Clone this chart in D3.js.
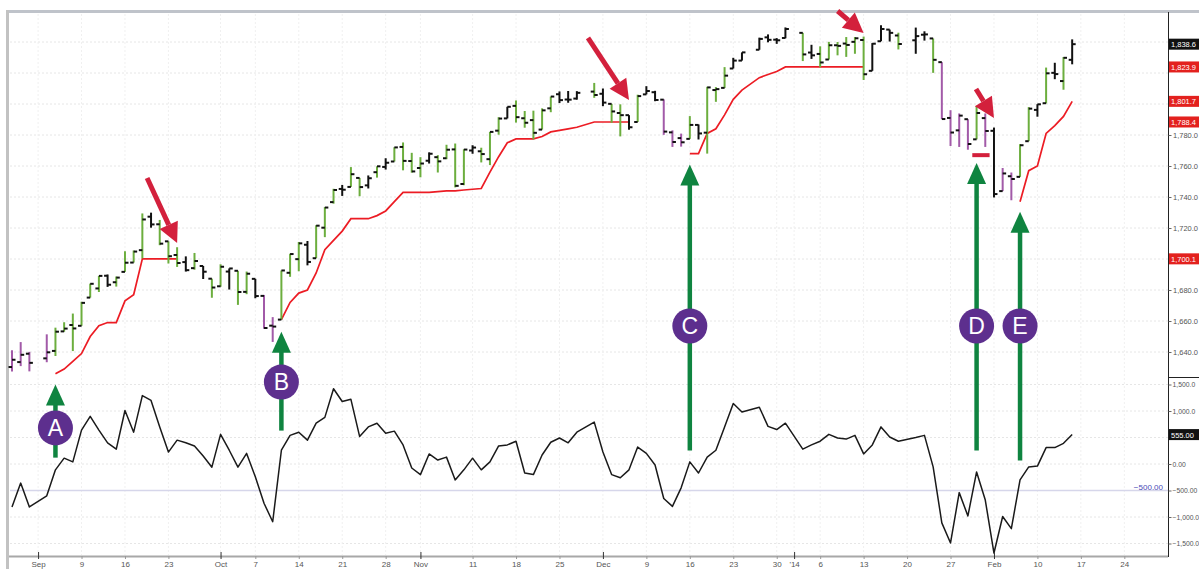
<!DOCTYPE html>
<html>
<head>
<meta charset="utf-8">
<script src="https://cdn.jsdelivr.net/npm/d3@7"></script>
<style>
  body { margin: 0; background: #fff; }
  svg { display: block; font-family: "Liberation Sans", Arial, sans-serif; }
</style>
</head>
<body>
<svg id="chart" width="1199" height="569"></svg>
<script>
// ---- data (daily bars, Aug 28 2013 - Feb 14 2014) ----
const dates = [
  '2013-08-28','2013-08-29','2013-08-30','2013-09-03','2013-09-04','2013-09-05','2013-09-06',
  '2013-09-09','2013-09-10','2013-09-11','2013-09-12','2013-09-13',
  '2013-09-16','2013-09-17','2013-09-18','2013-09-19','2013-09-20',
  '2013-09-23','2013-09-24','2013-09-25','2013-09-26','2013-09-27',
  '2013-09-30','2013-10-01','2013-10-02','2013-10-03','2013-10-04',
  '2013-10-07','2013-10-08','2013-10-09','2013-10-10','2013-10-11',
  '2013-10-14','2013-10-15','2013-10-16','2013-10-17','2013-10-18',
  '2013-10-21','2013-10-22','2013-10-23','2013-10-24','2013-10-25',
  '2013-10-28','2013-10-29','2013-10-30','2013-10-31','2013-11-01',
  '2013-11-04','2013-11-05','2013-11-06','2013-11-07','2013-11-08',
  '2013-11-11','2013-11-12','2013-11-13','2013-11-14','2013-11-15',
  '2013-11-18','2013-11-19','2013-11-20','2013-11-21','2013-11-22',
  '2013-11-25','2013-11-26','2013-11-27','2013-11-29',
  '2013-12-02','2013-12-03','2013-12-04','2013-12-05','2013-12-06',
  '2013-12-09','2013-12-10','2013-12-11','2013-12-12','2013-12-13',
  '2013-12-16','2013-12-17','2013-12-18','2013-12-19','2013-12-20',
  '2013-12-23','2013-12-24','2013-12-26','2013-12-27',
  '2013-12-30','2013-12-31','2014-01-02','2014-01-03',
  '2014-01-06','2014-01-07','2014-01-08','2014-01-09','2014-01-10',
  '2014-01-13','2014-01-14','2014-01-15','2014-01-16','2014-01-17',
  '2014-01-21','2014-01-22','2014-01-23','2014-01-24',
  '2014-01-27','2014-01-28','2014-01-29','2014-01-30','2014-01-31',
  '2014-02-03','2014-02-04','2014-02-05','2014-02-06','2014-02-07',
  '2014-02-10','2014-02-11','2014-02-12','2014-02-13','2014-02-14'
]

const opens = [
  1630.3,1633.5,1638.9,1635.9,1640.7,1653.3,1657.4,
  1656.9,1675.1,1681.0,1689.2,1685.0,
  1691.7,1697.7,1705.7,1727.3,1722.4,
  1711.4,1702.6,1698.0,1694.1,1695.5,
  1687.3,1682.4,1691.9,1692.4,1678.8,
  1687.2,1676.2,1657.0,1660.9,1691.1,
  1699.9,1709.2,1700.5,1720.2,1736.7,
  1745.2,1746.5,1752.3,1747.5,1756.0,
  1759.4,1762.9,1772.3,1763.2,1758.7,
  1763.4,1765.7,1765.0,1770.7,1748.4,
  1770.0,1769.5,1764.4,1782.8,1790.7,
  1798.8,1790.8,1789.6,1783.5,1797.2,
  1806.3,1802.9,1803.5,1808.0,
  1806.6,1800.1,1794.2,1792.8,1788.4,
  1806.2,1807.6,1802.8,1781.7,1778.0,
  1777.5,1786.5,1781.5,1809.0,1810.4,
  1822.9,1828.0,1835.0,1843.0,
  1841.5,1842.6,1845.9,1833.2,
  1832.3,1828.7,1837.9,1839.0,1840.1,
  1841.3,1821.4,1840.5,1848.0,1844.2,
  1841.1,1844.7,1842.3,1827.0,
  1791.0,1783.0,1790.2,1777.2,1790.9,
  1782.7,1743.8,1753.4,1753.0,1776.0,
  1796.2,1800.5,1820.1,1814.8,1828.5
]
const highs = [
  1641.2,1646.4,1640.1,1651.4,1655.7,1659.2,1664.8,
  1672.4,1684.1,1689.1,1690.0,1688.7,
  1705.0,1705.5,1729.4,1729.9,1725.2,
  1711.4,1707.6,1701.7,1703.9,1695.5,
  1687.3,1696.6,1693.9,1692.4,1691.9,
  1687.2,1676.8,1662.5,1692.6,1703.4,
  1711.0,1711.6,1721.8,1733.5,1745.3,
  1747.8,1759.3,1752.3,1753.9,1759.8,
  1765.0,1772.1,1775.2,1768.5,1765.7,
  1768.8,1767.0,1773.7,1774.5,1770.8,
  1773.4,1771.8,1782.0,1791.5,1798.2,
  1802.3,1795.5,1795.7,1797.2,1804.8,
  1808.1,1808.4,1808.3,1813.6,
  1810.0,1800.1,1799.8,1792.8,1806.0,
  1811.5,1808.5,1803.0,1783.0,1780.9,
  1792.2,1786.8,1811.1,1810.9,1823.8,
  1829.8,1833.3,1842.8,1844.9,
  1842.5,1849.4,1845.9,1838.2,
  1837.2,1840.1,1840.0,1843.2,1843.2,
  1843.5,1839.3,1850.8,1848.0,1846.0,
  1849.3,1846.9,1842.3,1827.0,
  1796.0,1793.9,1790.2,1798.8,1793.9,
  1784.8,1758.7,1755.8,1774.1,1798.0,
  1799.9,1823.5,1826.6,1830.3,1841.7
]
const lows = [
  1627.5,1630.9,1627.5,1633.4,1637.4,1653.1,1640.6,
  1656.9,1675.1,1678.7,1682.0,1682.2,
  1691.7,1697.7,1700.4,1720.2,1708.9,
  1697.1,1694.9,1691.9,1693.1,1687.1,
  1675.0,1682.1,1680.3,1670.4,1677.3,
  1674.7,1655.0,1646.5,1660.9,1688.5,
  1692.1,1695.9,1700.5,1714.1,1735.7,
  1740.7,1746.5,1740.5,1745.5,1752.5,
  1757.7,1762.9,1757.2,1755.7,1752.7,
  1761.6,1755.8,1764.4,1746.2,1747.6,
  1767.9,1762.3,1760.6,1780.2,1790.7,
  1788.0,1784.7,1777.2,1783.5,1794.7,
  1800.6,1800.8,1802.8,1804.0,
  1798.6,1787.9,1779.1,1783.4,1788.4,
  1806.2,1801.8,1780.1,1772.3,1772.5,
  1777.5,1777.1,1768.0,1801.4,1810.3,
  1822.9,1828.0,1835.0,1839.8,
  1838.8,1842.4,1827.7,1829.1,
  1823.7,1828.7,1831.4,1830.4,1832.4,
  1815.5,1821.4,1840.5,1840.3,1835.2,
  1832.4,1840.9,1820.1,1790.3,
  1772.9,1772.3,1770.5,1777.2,1772.3,
  1739.7,1743.8,1737.9,1753.0,1776.0,
  1791.8,1800.4,1816.0,1809.2,1825.6
]
const closes = [
  1635.0,1638.2,1633.0,1639.8,1653.1,1655.1,1655.2,
  1671.7,1684.0,1689.1,1683.4,1688.0,
  1697.6,1704.8,1725.5,1722.3,1709.9,
  1701.8,1697.4,1692.8,1698.7,1691.8,
  1681.6,1695.0,1693.9,1678.7,1690.5,
  1676.1,1655.5,1656.4,1692.6,1703.2,
  1710.1,1698.1,1721.5,1733.2,1744.5,
  1744.7,1754.7,1746.4,1752.1,1759.8,
  1762.1,1772.0,1763.3,1756.5,1761.6,
  1767.9,1763.0,1770.5,1747.2,1770.6,
  1771.9,1767.7,1782.0,1790.6,1798.2,
  1791.5,1787.9,1781.4,1795.9,1804.8,
  1802.5,1802.8,1807.2,1805.8,
  1800.9,1795.2,1792.8,1785.0,1805.1,
  1808.4,1802.6,1782.2,1775.5,1775.3,
  1786.5,1781.0,1810.7,1809.6,1818.3,
  1828.0,1833.3,1842.0,1841.4,
  1841.1,1848.4,1832.0,1831.4,
  1826.8,1837.9,1837.5,1838.1,1842.4,
  1819.2,1838.9,1848.4,1845.9,1838.7,
  1843.8,1844.9,1828.5,1790.3,
  1781.6,1792.5,1774.2,1794.2,1782.6,
  1741.9,1755.2,1751.6,1773.4,1797.0,
  1799.8,1819.8,1819.3,1829.8,1838.6
]
// g = green, k = black, p = purple bar
const barColors = (
  'ppppggg' + 'gggkg' + 'gggkg' + 'ggkgk' + 'ggkgg' + 'kppgg' + 'gkggg' + 'kggkg' +
  'kgggg' + 'kgggg' + 'kgggk' + 'ggggg' + 'kkkg' + 'kggkg' + 'kkppp' + 'gkggg' +
  'kkkk' + 'kkgk' + 'ggggg' + 'gkkkg' + 'kkgp' + 'pppgp' + 'kppgg' + 'kgkgk'
).split('')

// lower panel oscillator
const flow = [
  -810,-360,-810,-600,-110,110,40,
  640,900,640,400,280,
  1010,600,1290,1200,700,
  225,450,400,340,150,
  -60,560,260,-60,200,
  -240,-740,-1090,260,540,
  600,450,770,880,1420,
  1180,1220,520,700,770,
  580,620,360,-75,-200,
  190,75,130,-300,-110,
  110,-110,40,340,360,
  430,-170,-200,170,410,
  490,400,600,790,
  225,-200,-260,-110,320,
  200,-20,-650,-800,-450,
  40,-170,130,260,700,
  1140,980,1070,710,
  650,770,280,360,
  430,560,490,470,540,
  190,360,700,510,430,
  500,540,-55,-1110,
  -1490,-540,-980,-150,-680,
  -1680,-990,-1220,-300,-55,
  -40,310,310,390,555
]

// trailing stop (red), null where no stop is shown
const stops = [
  null,null,null,null,1626,1629,1634,
  1639,1650,1657,1659,1659,
  1673,1677,1700.1,1700.1,1700.1,
  1700.1,1700.1,null,null,null,
  null,null,null,null,null,
  null,null,null,1660.9,1672,
  1678,1680,1691,1706,1712,
  1718,1726,1726,1726,1728,
  1731,1737,1743,1743,1743,
  1743,1743.5,1744,1744,1744.5,
  1745,1745.5,1756,1766,1775,
  1777.5,1777.5,1777.5,1779,1782,
  1783,1784,1785,1788.4,
  1788.4,1788.4,1788.4,1788.4,null,
  null,null,null,null,null,
  1768,1768,1781,1784,1793,
  1803,1809,1817,1819,
  1821,1823.9,1823.9,1823.9,
  1823.9,1823.9,1823.9,1823.9,1823.9,
  1823.9,null,null,null,null,
  null,null,null,null,
  null,null,null,null,null,
  null,null,null,1737,1757,
  1760,1781,1786,1792,1801.7
]

const priceTicks = [1640, 1660, 1680, 1720, 1740, 1760, 1780]
const priceGrid = [1640, 1660, 1680, 1700, 1720, 1740, 1760, 1780, 1800, 1820, 1840]
const flowTicks = [1500, 1000, 0, -500, -1000, -1500]
const flowGrid = [1500, 1000, 500, 0, -1000, -1500]
const flowRefLine = -500

const tickDates = [
  '2013-09-02','2013-09-09','2013-09-16','2013-09-23','2013-10-01','2013-10-07','2013-10-14',
  '2013-10-21','2013-10-28','2013-11-01','2013-11-11','2013-11-18','2013-11-25','2013-12-02',
  '2013-12-09','2013-12-16','2013-12-23','2013-12-30','2014-01-01','2014-01-06','2014-01-13',
  '2014-01-20','2014-01-27','2014-02-03','2014-02-10','2014-02-17','2014-02-24'
]
const tickLabels = [
  'Sep','9','16','23','Oct','7','14','21','28','Nov','11','18','25','Dec',
  '9','16','23','30',"'14",'6','13','20','27','Feb','10','17','24'
]

// annotations
const greenArrows = [
  { label: 'A', date: '2013-09-04', tip: 1619, circle: 1591, bottom: 120 },
  { label: 'B', date: '2013-10-10', tip: 1653, circle: 1620.6, bottom: 630 },
  { label: 'C', date: '2013-12-16', tip: 1761, circle: 1656.8, bottom: 255 },
  { label: 'D', date: '2014-01-30', tip: 1762, circle: 1656.8, bottom: 255 },
  { label: 'E', date: '2014-02-06', tip: 1730.5, circle: 1656.8, bottom: 65 }
]
const redArrows = [
  { date: '2013-09-24', tip: 1710.3, dx: -30, dy: -65 },
  { date: '2013-12-05', tip: 1802.6, dx: -41, dy: -62 },
  { date: '2014-01-13', tip: 1845.8, dx: -26, dy: -22 },
  { date: '2014-02-03', tip: 1791, dx: -18, dy: -29 }
]
const markLine = { from: '2014-01-30', to: '2014-01-31', value: 1767 }

// ---- drawing ----
const svg = d3.select('#chart')
const parse = d3.timeParse('%Y-%m-%d')
const fmt = d3.timeFormat('%Y-%m-%d')
const slots = d3.timeDay.range(parse('2013-08-28'), parse('2014-03-01'))
  .filter(d => d.getDay() % 6 !== 0).map(fmt)

const x = d3.scalePoint().domain(slots).range([12, 12 + (slots.length - 1) * 8.69])
const y = d3.scaleLinear().domain([1640, 1780]).range([352, 135])
const y2 = d3.scaleLinear().domain([-1500, 1500]).range([543.5, 384.5])

const COLORS = { g: '#6cae3e', k: '#111111', p: '#a25aa8' }
const AXIS_X = 1168
const fmtPrice = d3.format(',.1f')
const fmtFlow = v => v === 0 ? '0.00' : Math.abs(v) >= 1000 ? d3.format(',.1f')(v) : d3.format('.2f')(v)

const bars = dates.map((d, i) => ({
  date: d, o: opens[i], h: highs[i], l: lows[i], c: closes[i],
  color: COLORS[barColors[i]], flow: flow[i], stop: stops[i]
}))

// frame
svg.append('line').attr('x1', 6).attr('x2', 1199).attr('y1', 11.5).attr('y2', 11.5)
  .attr('stroke', '#bfc3ca').attr('stroke-width', 3)
svg.append('line').attr('x1', 7.5).attr('x2', 7.5).attr('y1', 10).attr('y2', 569)
  .attr('stroke', '#c2c2c2').attr('stroke-width', 3)

// grids
const grid = svg.append('g').attr('stroke', '#e6e6e6').attr('stroke-dasharray', '2,2')
grid.selectAll('.hg').data(priceGrid).join('line')
  .attr('x1', 10).attr('x2', AXIS_X).attr('y1', d => y(d)).attr('y2', d => y(d))
grid.selectAll('.hg2').data(flowGrid).join('line')
  .attr('x1', 10).attr('x2', AXIS_X).attr('y1', d => y2(d)).attr('y2', d => y2(d))
grid.selectAll('.vg').data(tickDates).join('line')
  .attr('x1', d => x(d)).attr('x2', d => x(d)).attr('y1', 14).attr('y2', 555)
  .attr('stroke', '#f0f0f0')

svg.append('line').attr('x1', 10).attr('x2', AXIS_X)
  .attr('y1', y2(flowRefLine)).attr('y2', y2(flowRefLine))
  .attr('stroke', '#d6d6ea').attr('stroke-width', 1.5)
svg.append('text').attr('x', 1163).attr('y', y2(flowRefLine) - 1)
  .attr('text-anchor', 'end').attr('font-size', 8).attr('fill', '#4a4ab8')
  .text(fmtFlow(flowRefLine))

// trailing stop
svg.append('path').datum(bars)
  .attr('fill', 'none').attr('stroke', '#ec1c24').attr('stroke-width', 1.7)
  .attr('d', d3.line().defined(d => d.stop != null).x(d => x(d.date)).y(d => y(d.stop)))

// OHLC bars
const bar = svg.append('g').selectAll('g').data(bars).join('g')
bar.append('line')
  .attr('x1', d => x(d.date)).attr('x2', d => x(d.date))
  .attr('y1', d => y(d.h)).attr('y2', d => y(d.l))
  .attr('stroke', d => d.color).attr('stroke-width', 2)
bar.append('line')
  .attr('x1', d => x(d.date) - 3.5).attr('x2', d => x(d.date))
  .attr('y1', d => y(d.o)).attr('y2', d => y(d.o))
  .attr('stroke', '#111').attr('stroke-width', 2)
bar.append('line')
  .attr('x1', d => x(d.date)).attr('x2', d => x(d.date) + 3.5)
  .attr('y1', d => y(d.c)).attr('y2', d => y(d.c))
  .attr('stroke', '#111').attr('stroke-width', 2)

// lower oscillator
svg.append('path').datum(bars)
  .attr('fill', 'none').attr('stroke', '#1a1a1a').attr('stroke-width', 1.5)
  .attr('stroke-linejoin', 'round')
  .attr('d', d3.line().x(d => x(d.date)).y(d => y2(d.flow)))

// short marker line at D
svg.append('line')
  .attr('x1', x(markLine.from) - 4.3).attr('x2', x(markLine.to) + 4.3)
  .attr('y1', y(markLine.value)).attr('y2', y(markLine.value))
  .attr('stroke', '#d3203c').attr('stroke-width', 4)

// green arrows with letter circles
const ga = svg.append('g').selectAll('g').data(greenArrows).join('g')
ga.append('line')
  .attr('x1', d => x(d.date)).attr('x2', d => x(d.date))
  .attr('y1', d => y(d.tip) + 18).attr('y2', d => y2(d.bottom))
  .attr('stroke', '#0f8440').attr('stroke-width', 4.5)
ga.append('path')
  .attr('d', d => {
    const cx = x(d.date), ty = y(d.tip)
    return `M${cx},${ty}L${cx + 9.5},${ty + 21}L${cx - 9.5},${ty + 21}Z`
  })
  .attr('fill', '#0f8440')
ga.append('circle')
  .attr('cx', d => x(d.date)).attr('cy', d => y(d.circle)).attr('r', 17.5)
  .attr('fill', '#5d2f8e')
ga.append('text')
  .attr('x', d => x(d.date)).attr('y', d => y(d.circle) + 8)
  .attr('text-anchor', 'middle').attr('font-size', 23).attr('fill', '#fff')
  .text(d => d.label)

// red arrows
const ra = svg.append('g').selectAll('g').data(redArrows).join('g')
ra.each(function (d) {
  const tx = x(d.date), ty = y(d.tip)
  const len = Math.hypot(d.dx, d.dy)
  const ux = -d.dx / len, uy = -d.dy / len
  const head = Math.min(20, len * 0.6)
  const bx = tx - ux * head, by = ty - uy * head
  const g = d3.select(this)
  g.append('line')
    .attr('x1', tx + d.dx).attr('y1', ty + d.dy).attr('x2', bx).attr('y2', by)
    .attr('stroke', '#d3203c').attr('stroke-width', 5)
  g.append('path')
    .attr('d', `M${tx},${ty}L${bx - uy * 10},${by + ux * 10}L${bx + uy * 10},${by - ux * 10}Z`)
    .attr('fill', '#d3203c')
})

// right axis
svg.append('line').attr('x1', AXIS_X + 0.5).attr('x2', AXIS_X + 0.5).attr('y1', 12).attr('y2', 557)
  .attr('stroke', '#222')
svg.append('line').attr('x1', AXIS_X).attr('x2', 1199).attr('y1', 377.5).attr('y2', 377.5)
  .attr('stroke', '#222')

const styleAxis = size => g => {
  g.select('.domain').remove()
  g.selectAll('line').attr('stroke', '#666')
  g.selectAll('text').attr('fill', '#555').attr('font-size', size)
    .attr('font-family', '"Liberation Sans", Arial, sans-serif')
}
svg.append('g').attr('transform', `translate(${AXIS_X + 0.5},0)`)
  .call(d3.axisRight(y).tickValues(priceTicks).tickFormat(fmtPrice).tickSize(3).tickPadding(1.5))
  .call(styleAxis(7.5))
svg.append('g').attr('transform', `translate(${AXIS_X + 0.5},0)`)
  .call(d3.axisRight(y2).tickValues(flowTicks).tickFormat(fmtFlow).tickSize(3).tickPadding(1))
  .call(styleAxis(6.8))

// value boxes
const segEnds = stops.filter((v, i) => v != null && (i === stops.length - 1 || stops[i + 1] == null))
const boxes = [
  { y: y(closes[closes.length - 1]), text: fmtPrice(closes[closes.length - 1]), fill: '#111' },
  ...segEnds.map(v => ({ y: y(v), text: fmtPrice(v), fill: '#e3211e' })),
  { y: y2(flow[flow.length - 1]), text: d3.format('.2f')(flow[flow.length - 1]), fill: '#111' }
]
const bx = svg.append('g').selectAll('g').data(boxes).join('g')
bx.append('rect').attr('x', AXIS_X + 1).attr('y', d => d.y - 5.5).attr('width', 32).attr('height', 11)
  .attr('fill', d => d.fill)
bx.append('text').attr('x', AXIS_X + 3).attr('y', d => d.y + 3)
  .attr('font-size', 7.5).attr('fill', '#fff').text(d => d.text)

// bottom axis
svg.append('line').attr('x1', 9).attr('x2', AXIS_X).attr('y1', 556.5).attr('y2', 556.5)
  .attr('stroke', '#a8a8a8').attr('stroke-width', 2)
svg.append('g').attr('transform', 'translate(0,556)')
  .call(d3.axisBottom(x).tickValues(tickDates).tickFormat((d, i) => tickLabels[i]).tickSize(3).tickPadding(2))
  .call(styleAxis(8))
  .call(g => g.selectAll('.tick line')
    .attr('y1', (d, i) => isNaN(+tickLabels[i]) ? -4 : 0)
    .attr('stroke', (d, i) => isNaN(+tickLabels[i]) ? '#333' : '#999'))
</script>
</body>
</html>
